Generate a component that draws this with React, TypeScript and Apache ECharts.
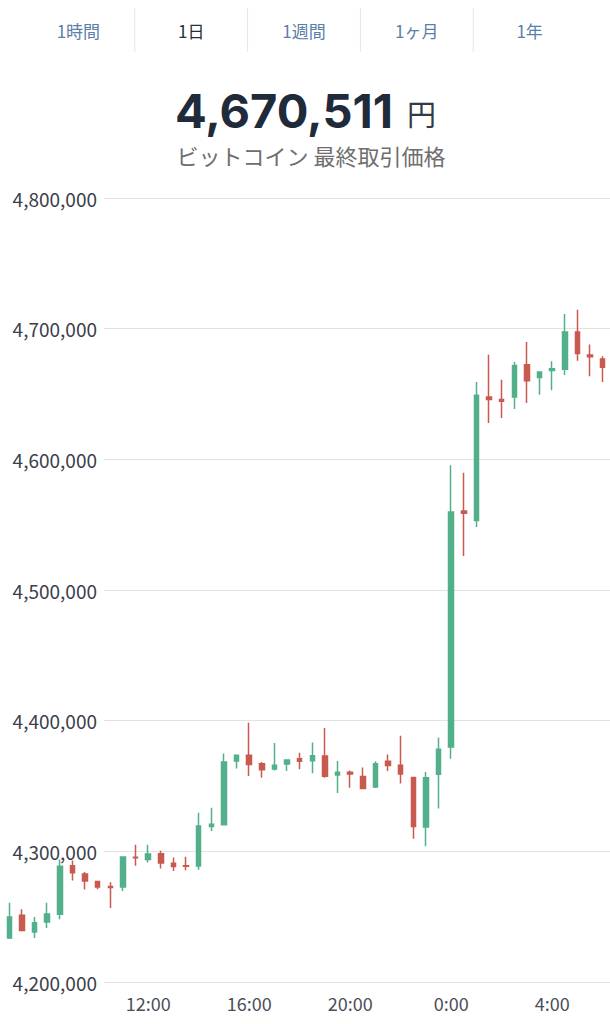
import React, { useEffect, useRef } from "react";
import * as echarts from "echarts";

const times = ["6:30","7:00","7:30","8:00","8:30","9:00","9:30","10:00","10:30","11:00","11:30","12:00","12:30","13:00","13:30","14:00","14:30","15:00","15:30","16:00","16:30","17:00","17:30","18:00","18:30","19:00","19:30","20:00","20:30","21:00","21:30","22:00","22:30","23:00","23:30","0:00","0:30","1:00","1:30","2:00","2:30","3:00","3:30","4:00","4:30","5:00","5:30","6:00"];

const opens = [4233700,4251000,4238300,4245900,4251800,4289000,4282600,4277000,4273000,4272700,4295500,4293700,4298200,4290800,4289000,4288700,4319100,4320400,4369100,4373500,4367100,4363000,4366800,4370900,4369400,4372900,4358400,4360500,4357200,4349200,4368900,4365800,4356600,4318600,4358900,4379800,4560400,4553100,4647700,4645700,4647700,4672400,4662700,4667900,4668900,4697500,4679900,4676800];
const closes = [4249700,4239500,4245400,4252000,4288500,4283700,4277300,4272700,4272400,4295700,4295000,4297900,4291000,4288300,4288500,4319400,4320700,4368300,4373500,4366400,4362500,4365800,4369900,4368900,4373200,4357400,4360500,4359200,4348000,4367100,4365600,4359200,4319100,4356400,4378100,4559700,4558700,4649000,4645700,4644400,4671900,4660200,4666900,4669400,4697500,4680900,4678600,4670511];
const lows = [4233000,4239000,4233700,4241300,4248000,4277600,4270700,4270900,4256600,4269600,4289000,4291400,4286800,4284900,4285500,4286000,4315500,4320000,4363300,4357600,4356400,4361800,4361500,4362800,4359700,4356400,4344600,4348700,4347500,4348400,4361500,4352000,4309700,4303800,4332700,4370900,4526000,4548200,4627800,4631700,4638500,4643100,4649500,4652800,4664600,4675500,4663500,4659200];
const highs = [4260700,4255600,4249700,4260700,4293700,4292900,4284200,4277200,4276300,4296200,4305100,4305100,4300500,4295200,4295900,4329600,4333400,4374800,4374200,4398500,4368300,4382900,4370200,4375500,4383200,4394400,4369100,4361800,4364100,4368900,4374200,4388500,4357000,4360700,4387200,4595400,4589800,4659200,4680100,4661000,4674500,4689800,4667200,4675000,4711200,4714500,4687800,4678800];

const xTickLabels = ["12:00", "16:00", "20:00", "0:00", "4:00"];
const yMin = 4200000;
const yMax = 4800000;
const yStep = 100000;

const tabs = ["1時間", "1日", "1週間", "1ヶ月", "1年"];
const activeTab = "1日";
const lastPrice = "4,670,511";
const currencyUnit = "円";
const subtitle = "ビットコイン 最終取引価格";

const FONT = "'Noto Sans CJK JP', 'Noto Sans', sans-serif";
const TITLE_FONT = "Inter, 'Noto Sans', sans-serif";
const UP = "#52b08a";
const DOWN = "#c95a4f";

export default function App() {
  const ref = useRef<HTMLDivElement>(null);

  useEffect(() => {
    if (!ref.current) return;
    const chart = echarts.init(ref.current, undefined, { renderer: "svg" });

    const candleData = times.map((_, i) => [opens[i], closes[i], lows[i], highs[i]]);

    const tabLeft = 22;
    const tabW = 112.8;
    const graphics: any[] = [];
    tabs.forEach((t, i) => {
      graphics.push({
        type: "text",
        x: tabLeft + tabW * (i + 0.5),
        y: 30,
        style: {
          text: t,
          fontSize: 17,
          lineHeight: 20,
          fontFamily: FONT,
          fill: t === activeTab ? "#2b2f36" : "#5a80a8",
          align: "center",
          verticalAlign: "middle",
        },
      });
      if (i > 0) {
        graphics.push({
          type: "line",
          shape: { x1: tabLeft + tabW * i, y1: 8, x2: tabLeft + tabW * i, y2: 52 },
          style: { stroke: "#e6e6e6", lineWidth: 1 },
        });
      }
    });
    graphics.push({
      type: "text",
      x: 393,
      y: 110,
      style: {
        text: lastPrice,
        fontSize: 47,
        lineHeight: 40,
        fontWeight: "bold",
        fontFamily: TITLE_FONT,
        fill: "#1f2a3b",
        align: "right",
        verticalAlign: "middle",
      },
    });
    graphics.push({
      type: "text",
      x: 407,
      y: 113,
      style: {
        text: currencyUnit,
        fontSize: 29,
        lineHeight: 30,
        fontFamily: FONT,
        fill: "#333a44",
        align: "left",
        verticalAlign: "middle",
      },
    });
    graphics.push({
      type: "text",
      x: 311,
      y: 155,
      style: {
        text: subtitle,
        fontSize: 22,
        lineHeight: 24,
        fontFamily: FONT,
        fill: "#6e6e6e",
        align: "center",
        verticalAlign: "middle",
      },
    });

    chart.setOption({
      animation: false,
      backgroundColor: "#ffffff",
      graphic: graphics,
      grid: [
        { left: 3, right: 1, top: 198, bottom: 42 },
        { left: 104, right: 0, top: 198, bottom: 42 },
      ],
      xAxis: [
        {
          type: "category",
          gridIndex: 0,
          data: times,
          boundaryGap: true,
          axisLine: { show: false },
          axisTick: { show: false },
          splitLine: { show: false },
          axisLabel: {
            interval: (_i: number, v: string) => xTickLabels.includes(v),
            color: "#4a4f59",
            fontSize: 18,
            fontFamily: FONT,
            margin: 12,
          },
        },
        { type: "value", gridIndex: 1, show: false },
      ],
      yAxis: [
        { type: "value", gridIndex: 0, min: yMin, max: yMax, show: false, splitLine: { show: false } },
        {
          type: "value",
          gridIndex: 1,
          min: yMin,
          max: yMax,
          interval: yStep,
          axisLine: { show: false },
          axisTick: { show: false },
          splitLine: { lineStyle: { color: "#e3e3e3", width: 1 } },
          axisLabel: {
            formatter: (v: number) => v.toLocaleString("en-US"),
            color: "#3b404a",
            fontSize: 19,
            fontFamily: FONT,
            margin: 7,
          },
        },
      ],
      series: [
        {
          type: "candlestick",
          xAxisIndex: 0,
          yAxisIndex: 0,
          data: candleData,
          barWidth: 5,
          itemStyle: {
            color: UP,
            color0: DOWN,
            borderColor: UP,
            borderColor0: DOWN,
            borderWidth: 1.5,
          },
        },
      ],
    });

    return () => chart.dispose();
  }, []);

  return (
    <div
      ref={ref}
      style={{ position: "absolute", left: 0, top: 0, width: 610, height: 1024, background: "#fff" }}
    />
  );
}
